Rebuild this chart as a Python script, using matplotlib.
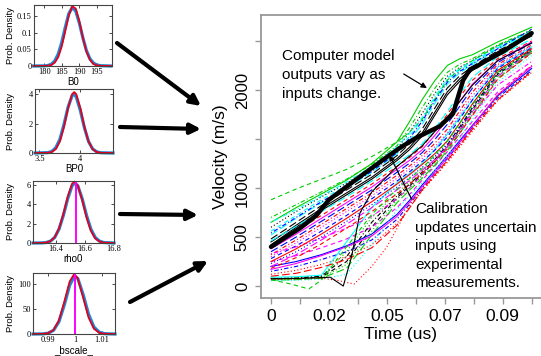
import matplotlib.pyplot as plt
from matplotlib.patches import FancyArrowPatch

plt.rcParams["font.family"] = ["Liberation Sans", "DejaVu Sans"]

W, H = 541, 356

# ---- right panel: simulated velocity traces (m/s) ----
TIME = [0, 0.01, 0.02, 0.03, 0.04, 0.05, 0.055, 0.06, 0.065, 0.07, 0.075, 0.08, 0.09, 0.1035]
VELOCITY = [
    [450, 620, 790, 950, 1110, 1300, 1416, 1560, 1771, 1980, 2116, 2220, 2390, 2560],
    [400, 560, 720, 880, 1040, 1220, 1311, 1420, 1576, 1750, 1932, 2100, 2320, 2500],
    [80, 85, 100, 350, 700, 950, 1062, 1180, 1321, 1480, 1662, 1850, 2200, 2420],
    [150, 200, 270, 350, 470, 680, 834, 1000, 1150, 1300, 1460, 1620, 1920, 2200],
    [520, 690, 850, 1000, 1160, 1350, 1486, 1650, 1861, 2060, 2176, 2260, 2420, 2580],
    [380, 530, 690, 850, 1010, 1190, 1282, 1390, 1535, 1700, 1884, 2060, 2300, 2490],
    [70, 75, 90, 250, 600, 900, 1021, 1140, 1271, 1420, 1605, 1800, 2160, 2400],
    [120, 160, 220, 300, 420, 640, 801, 970, 1116, 1260, 1419, 1580, 1890, 2180],
    [700, 830, 960, 1090, 1240, 1430, 1614, 1820, 2016, 2180, 2264, 2320, 2460, 2610],
    [350, 500, 660, 820, 980, 1160, 1253, 1360, 1494, 1650, 1837, 2020, 2280, 2480],
    [90, 95, 110, 450, 800, 1050, 1147, 1250, 1391, 1550, 1723, 1900, 2230, 2440],
    [250, 310, 390, 480, 600, 800, 934, 1080, 1223, 1370, 1524, 1680, 1980, 2250],
    [600, 760, 910, 1050, 1210, 1400, 1568, 1760, 1963, 2140, 2234, 2300, 2450, 2600],
    [320, 470, 630, 790, 950, 1130, 1224, 1330, 1454, 1600, 1789, 1980, 2260, 2460],
    [60, 65, 80, 180, 520, 850, 978, 1100, 1233, 1380, 1559, 1750, 2120, 2380],
    [200, 250, 320, 410, 530, 730, 874, 1030, 1179, 1330, 1485, 1640, 1940, 2220],
    [560, 720, 880, 1030, 1190, 1380, 1527, 1700, 1909, 2100, 2206, 2280, 2430, 2590],
    [300, 440, 600, 760, 920, 1100, 1195, 1300, 1419, 1560, 1748, 1940, 2240, 2450],
    [75, 80, 100, 300, 650, 920, 1039, 1160, 1291, 1440, 1625, 1820, 2180, 2410],
    [100, 130, 190, 270, 390, 620, 796, 980, 1133, 1280, 1440, 1600, 1900, 2190],
    [650, 800, 940, 1080, 1250, 1470, 1677, 1900, 2095, 2250, 2319, 2360, 2490, 2640],
    [280, 410, 560, 720, 890, 1070, 1166, 1270, 1384, 1520, 1706, 1900, 2220, 2430],
    [55, 60, 70, 120, 420, 780, 920, 1050, 1184, 1330, 1509, 1700, 2080, 2350],
    [330, 400, 490, 590, 710, 890, 1003, 1130, 1269, 1420, 1584, 1750, 2050, 2290],
    [480, 650, 820, 980, 1140, 1330, 1451, 1600, 1813, 2020, 2146, 2240, 2400, 2570],
    [250, 380, 530, 690, 860, 1040, 1136, 1240, 1349, 1480, 1664, 1860, 2200, 2420],
    [880, 990, 1090, 1190, 1320, 1470, 1569, 1700, 1902, 2100, 2216, 2300, 2450, 2600],
    [230, 350, 500, 660, 830, 1010, 1106, 1210, 1319, 1450, 1628, 1820, 2170, 2400],
    [650, 780, 920, 1060, 1220, 1420, 1558, 1720, 1928, 2120, 2221, 2290, 2440, 2600],
    [200, 320, 470, 630, 800, 980, 1076, 1180, 1290, 1420, 1593, 1780, 2140, 2390],
    [420, 600, 770, 930, 1090, 1280, 1391, 1530, 1740, 1950, 2090, 2200, 2380, 2550],
    [180, 290, 430, 590, 760, 940, 1041, 1150, 1267, 1400, 1563, 1740, 2110, 2380],
    [65, 70, 85, 220, 560, 880, 1003, 1120, 1251, 1400, 1584, 1780, 2150, 2390],
    [540, 700, 860, 1010, 1170, 1360, 1507, 1680, 1888, 2080, 2191, 2270, 2420, 2620],
    [460, 610, 760, 910, 1070, 1250, 1341, 1450, 1606, 1780, 1963, 2130, 2340, 2520],
    [170, 230, 310, 400, 510, 710, 854, 1010, 1159, 1310, 1469, 1630, 1950, 2240],
]

# traces sampled at their own times
TIME_GREEN = [0, 0.008, 0.015, 0.02, 0.03, 0.04, 0.05, 0.06, 0.07, 0.08, 0.09, 0.1035]
VEL_GREEN = [65, 20, -30, 60, 400, 730, 990, 1200, 1480, 1850, 2180, 2400]
TIME_BLACK = [0, 0.01, 0.02, 0.0235, 0.0287, 0.032, 0.0353, 0.04, 0.05, 0.06, 0.07, 0.08, 0.09, 0.1035]
VEL_BLACK = [75, 78, 85, 90, 0, 300, 745, 960, 1220, 1430, 1720, 2050, 2300, 2480]
TIME_RED = [0, 0.01, 0.02, 0.026, 0.033, 0.04, 0.046, 0.0563, 0.067, 0.08, 0.09, 0.1035]
VEL_RED = [70, 72, 80, 60, 20, 200, 400, 880, 1180, 1600, 1950, 2250]

# experimental trace (bold)
TIME_BOLD = [0, 0.006, 0.0115, 0.018, 0.023, 0.0345, 0.046, 0.0512, 0.0575, 0.067,
             0.0723, 0.0745, 0.0763, 0.079, 0.0816, 0.0855, 0.092, 0.1035]
VEL_BOLD = [400, 500, 590, 720, 880, 1100, 1316, 1410, 1510, 1630,
            1760, 1950, 2100, 2210, 2240, 2300, 2390, 2580]

X_TICK_LABELS = ["0", "", "0.02", "", "0.05", "", "0.07", "", "0.09", ""]
Y_TICKS = [0, 500, 1000, 1500, 2000, 2500]
Y_TICK_LABELS = ["0", "500", "1000", "", "2000", ""]

# ---- left panels: posterior densities ----
B0_X = [177, 180, 181, 182, 183, 184, 185, 186, 187, 188, 189, 190, 191, 192, 193, 194, 195, 196, 199]
B0_BLUE = [0, 0.0004, 0.0015, 0.005, 0.015, 0.036, 0.071, 0.116, 0.157, 0.176, 0.164,
           0.129, 0.085, 0.047, 0.022, 0.009, 0.003, 0.001, 0]
B0_RED = [0, 0.0001, 0.0007, 0.003, 0.010, 0.027, 0.059, 0.105, 0.152, 0.179, 0.172,
          0.134, 0.085, 0.044, 0.019, 0.006, 0.002, 0.0004, 0]

BP0_X = [3.445, 3.60, 3.65, 3.70, 3.75, 3.80, 3.85, 3.90, 3.925, 3.95, 4.00, 4.05, 4.10, 4.15, 4.20, 4.25, 4.40]
BP0_BLUE = [0, 0.024, 0.10, 0.36, 0.94, 1.95, 3.13, 3.92, 4.0, 3.82, 2.90, 1.72, 0.79, 0.28, 0.08, 0.017, 0]
BP0_RED = [0, 0.013, 0.069, 0.268, 0.79, 1.78, 3.06, 4.01, 4.15, 4.01, 3.06, 1.78, 0.79, 0.27, 0.07, 0.013, 0]

RHO0_X = [16.24, 16.30, 16.33, 16.36, 16.39, 16.42, 16.45, 16.48, 16.51, 16.527,
          16.55, 16.58, 16.61, 16.64, 16.67, 16.70, 16.73, 16.80]
RHO0_BLUE = [0, 0.011, 0.049, 0.189, 0.574, 1.44, 2.86, 4.58, 5.91, 6.19,
             5.91, 4.58, 2.86, 1.44, 0.574, 0.189, 0.049, 0]
RHO0_RED = [0, 0.009, 0.046, 0.184, 0.587, 1.49, 2.99, 4.80, 6.12, 6.35,
            5.94, 4.45, 2.65, 1.26, 0.476, 0.144, 0.034, 0]
RHO0_MARK = 16.535

BSCALE_X = [0.9844, 0.988, 0.99, 0.992, 0.994, 0.996, 0.998, 0.9997, 1.001, 1.003,
            1.005, 1.007, 1.009, 1.011, 1.0148]
BSCALE_BLUE = [0, 0.23, 1.56, 7.3, 24.6, 58.6, 98.4, 116.5, 112, 79.3, 39.7, 14.0, 3.5, 0.62, 0]
BSCALE_RED = [0, 0.22, 1.61, 7.97, 27.3, 64.6, 106, 121, 112, 73.4, 33.3, 10.5, 2.28, 0.34, 0]
BSCALE_MARK = 1.0


def fig_rect(left, top, right, bottom):
    # pixel box -> figure fraction [l, b, w, h]
    return [left / W, 1 - bottom / H, (right - left) / W, (bottom - top) / H]


def fig_pt(x, y):
    return (x / W, 1 - y / H)


fig = plt.figure(figsize=(W / 100, H / 100), dpi=100)

# left density panels
panels = [
    ((34, 5, 112, 66), B0_X, B0_BLUE, B0_RED, None, (177.1, 199.3), (0, 0.183),
     [180, 185, 190, 195], ["180", "185", "190", "195"],
     [0, 0.05, 0.1, 0.15], ["0", "0.05", "0.1", "0.15"], "B0"),
    ((35, 89, 113, 153), BP0_X, BP0_BLUE, BP0_RED, None, (3.445, 4.40), (0, 4.36),
     [3.5, 4], ["3.5", "4"], [0, 2, 4], ["0", "2", "4"], "BP0"),
    ((33, 181, 114, 243), RHO0_X, RHO0_BLUE, RHO0_RED, RHO0_MARK, (16.24, 16.80), (0, 6.41),
     [16.4, 16.6, 16.8], ["16.4", "16.6", "16.8"], [0, 2, 4, 6], ["0", "2", "4", "6"], "rho0"),
    ((33, 273, 115, 334), BSCALE_X, BSCALE_BLUE, BSCALE_RED, BSCALE_MARK, (0.9844, 1.0148), (0, 123),
     [0.99, 1, 1.01], ["0.99", "1", "1.01"], [0, 50, 100], ["0", "50", "100"], "_bscale_"),
]
for (box, x, blue, red, mark, xlim, ylim, xt, xtl, yt, ytl, xlabel) in panels:
    pax = fig.add_axes(fig_rect(*box))
    pax.plot(x, blue, color="#1f86d6", lw=2.3, clip_on=False)
    pax.plot(x, red, color="#e3001b", lw=1.3, clip_on=False)
    if mark is not None:
        pax.plot([mark, mark], [0, ylim[1]], color="#ff00ff", lw=1.4)
    pax.set_xlim(*xlim)
    pax.set_ylim(*ylim)
    pax.set_xticks(xt)
    pax.set_xticklabels(xtl, family="Liberation Serif", fontsize=6)
    pax.set_yticks(yt)
    pax.set_yticklabels(ytl, family="Liberation Serif", fontsize=6)
    pax.tick_params(direction="in", top=True, right=True, length=2, width=0.5, pad=1.5)
    for s in pax.spines.values():
        s.set_color("#444444")
        s.set_linewidth(0.8)
    pax.set_xlabel(xlabel, fontsize=7, labelpad=1)
    pax.set_ylabel("Prob. Density", fontsize=6.8)
    pax.yaxis.set_label_coords((15 - box[0]) / (box[2] - box[0]), 0.5)

# big arrows from the panels to the velocity plot
for (x0, y0, x1, y1) in [(117, 43, 201, 106), (120, 127, 201, 129),
                         (120, 214, 198, 215), (130, 302, 208, 261)]:
    fig.add_artist(FancyArrowPatch(fig_pt(x0, y0), fig_pt(x1, y1), transform=fig.transFigure,
                                   arrowstyle="-|>", mutation_scale=15, lw=3, color="black",
                                   shrinkA=0, shrinkB=0))

# right velocity plot
ax = fig.add_axes(fig_rect(261, 15, 541, 298))
colors = ["black", "red", "#00cd00", "blue", "cyan", "magenta"]
dashes = ["-", (0, (4, 3)), (0, (1, 2)), (0, (1, 2, 4, 2)), (0, (7, 3))]
for i, v in enumerate(VELOCITY):
    ax.plot(TIME, v, color=colors[i % 6], ls=dashes[i % 5], lw=0.8)
ax.plot(TIME_GREEN, VEL_GREEN, color="#00cd00", ls=(0, (4, 3)), lw=0.8)
ax.plot(TIME_RED, VEL_RED, color="red", ls=(0, (1, 2)), lw=0.8)
ax.plot(TIME_BLACK, VEL_BLACK, color="black", lw=0.8)
ax.plot(TIME_BOLD, VEL_BOLD, color="black", lw=3.2, solid_capstyle="round")

ax.set_xlim(-0.00397, 0.1072)
ax.set_ylim(-122, 2765)
ax.set_xticks([0.0115 * k for k in range(10)])
ax.set_xticklabels(X_TICK_LABELS, fontsize=12.5)
ax.set_yticks(Y_TICKS)
ax.set_yticklabels(Y_TICK_LABELS, fontsize=12, rotation=90, va="center")
ax.tick_params(length=4, width=1, color="#999999", pad=4)
for s in ["left", "bottom", "top"]:
    ax.spines[s].set_color("#999999")
    ax.spines[s].set_linewidth(1.3)
ax.spines["right"].set_visible(False)
ax.set_xlabel("Time (us)", fontsize=12.5)
ax.xaxis.set_label_coords(0.5, (298 - 327) / 283)
ax.set_ylabel("Velocity (m/s)", fontsize=12.5)
ax.yaxis.set_label_coords((228 - 261) / 280, 0.5)

fig.text(*fig_pt(282, 49), "Computer model\noutputs vary as\ninputs change.",
         fontsize=11, va="top", ha="left", linespacing=1.45)
fig.text(*fig_pt(415, 202), "Calibration\nupdates uncertain\ninputs using\nexperimental\nmeasurements.",
         fontsize=11, va="top", ha="left", linespacing=1.42)
ax.annotate("", xy=(0.0619, 2020), xytext=(0.0527, 2163),
            arrowprops=dict(arrowstyle="-|>", color="black", lw=0.9, mutation_scale=8,
                            shrinkA=0, shrinkB=0))
ax.annotate("", xy=(0.0470, 1337), xytext=(0.0558, 888),
            arrowprops=dict(arrowstyle="-|>", color="black", lw=0.9, mutation_scale=8,
                            shrinkA=0, shrinkB=0))

fig.savefig("out.png", dpi=100)
